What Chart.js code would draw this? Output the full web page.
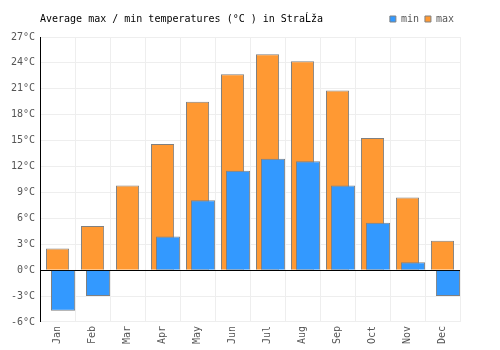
<!DOCTYPE html>
<html>
<head>
<meta charset="utf-8">
<script src="https://cdn.jsdelivr.net/npm/chart.js@4/dist/chart.umd.min.js"></script>
<style>
  html, body { margin: 0; padding: 0; background: #fff; }
  #wrap { position: relative; width: 500px; height: 350px; }
  #title {
    position: absolute; left: 40px; top: 13px;
    font: 10px "DejaVu Sans Mono", monospace; color: #000;
    white-space: pre;
  }
</style>
</head>
<body>
<div id="wrap">
  <div id="title">Average max / min temperatures (°C ) in StraĹža</div>
  <canvas id="chart" width="500" height="350"></canvas>
</div>
<script>
// Monthly data
const months = ['Jan', 'Feb', 'Mar', 'Apr', 'May', 'Jun', 'Jul', 'Aug', 'Sep', 'Oct', 'Nov', 'Dec'];
const minTemps = [-4.7, -3.0, 0.0, 3.9, 8.1, 11.5, 12.9, 12.6, 9.8, 5.5, 0.9, -3.0];
const maxTemps = [2.5, 5.1, 9.8, 14.6, 19.5, 22.7, 25.0, 24.2, 20.8, 15.3, 8.4, 3.4];
const yTicks = [-6, -3, 0, 3, 6, 9, 12, 15, 18, 21, 24, 27];

const monoFont = { family: "'DejaVu Sans Mono', monospace", size: 10 };

// min bars sit a little to the right of the max bars
const shiftMinBars = {
    id: 'shiftMinBars',
    beforeDatasetDraw(chart, args) {
        if (args.index === 0) {
            chart.ctx.save();
            chart.ctx.translate(5.5, 0);
        }
    },
    afterDatasetDraw(chart, args) {
        if (args.index === 0) chart.ctx.restore();
    }
};

// a bit more room under the legend
const legendSpace = {
    id: 'legendSpace',
    beforeInit(chart) {
        const origFit = chart.legend.fit;
        chart.legend.fit = function() {
            origFit.bind(chart.legend)();
            this.height += 3;
        };
    }
};

new Chart(document.getElementById('chart'), {
    type: 'bar',
    data: {
        labels: months,
        datasets: [{
            label: 'min',
            data: minTemps,
            backgroundColor: '#3399ff',
            borderColor: '#808080',
            borderWidth: 1,
            grouped: false,
            categoryPercentage: 1,
            barPercentage: 0.69
        }, {
            label: 'max',
            data: maxTemps,
            backgroundColor: '#ff9933',
            borderColor: '#808080',
            borderWidth: 1,
            grouped: false,
            categoryPercentage: 1,
            barPercentage: 0.66
        }]
    },
    options: {
        responsive: false,
        animation: false,
        layout: { padding: { left: 6, right: 40, top: 8, bottom: 2 } },
        plugins: {
            tooltip: { enabled: false },
            legend: {
                position: 'top',
                align: 'end',
                labels: {
                    font: monoFont,
                    color: '#555',
                    boxWidth: 6,
                    boxHeight: 6,
                    padding: 6
                }
            }
        },
        scales: {
            x: {
                grid: { color: '#eeeeee', drawTicks: false },
                border: { color: '#eeeeee' },
                ticks: {
                    font: monoFont,
                    color: '#555',
                    minRotation: 90,
                    maxRotation: 90,
                    padding: 4
                }
            },
            y: {
                min: yTicks[0],
                max: yTicks[yTicks.length - 1],
                afterBuildTicks: function(axis) {
                    axis.ticks = yTicks.map(v => ({ value: v }));
                },
                grid: {
                    color: ctx => (ctx.tick && ctx.tick.value === 0) ? '#000' : '#eeeeee',
                    drawTicks: false
                },
                border: { color: '#000' },
                ticks: {
                    font: monoFont,
                    color: '#555',
                    padding: 5,
                    callback: v => v + '°C'
                }
            }
        }
    },
    plugins: [shiftMinBars, legendSpace]
});
</script>
</body>
</html>
